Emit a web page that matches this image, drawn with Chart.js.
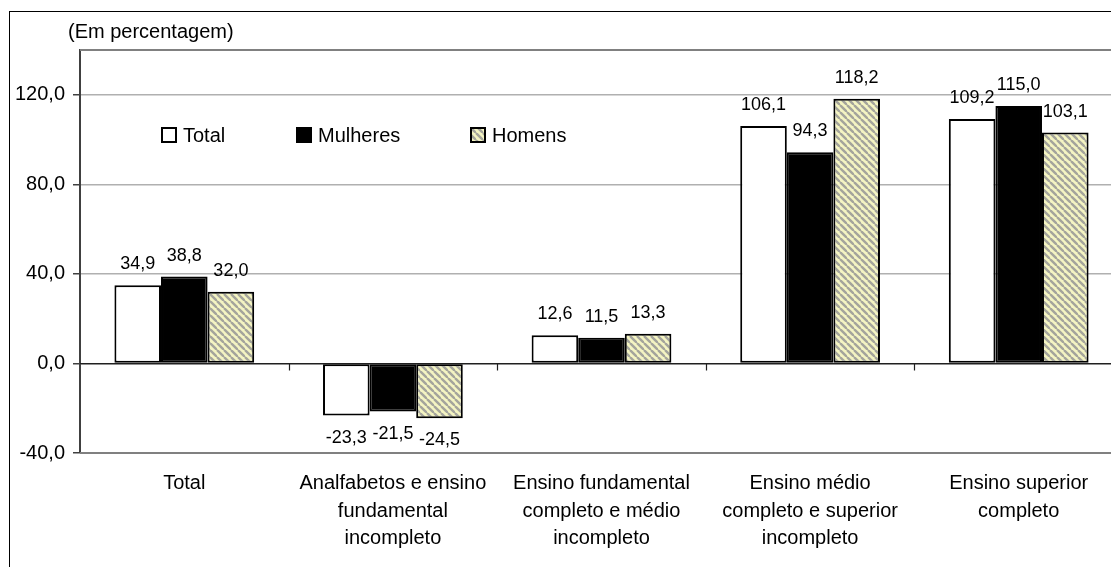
<!DOCTYPE html>
<html>
<head>
<meta charset="utf-8">
<script src="https://cdn.jsdelivr.net/npm/chart.js@4/dist/chart.umd.min.js"></script>
<style>
  html, body { margin: 0; padding: 0; background: #fff; overflow: hidden; }
  #wrap { width: 1111px; height: 567px; overflow: hidden; }
  canvas { display: block; }
</style>
</head>
<body>
<div id="wrap"><canvas id="chart" width="1135" height="567"></canvas></div>
<script>
// Variação percentual da população ocupada por nível de instrução
const categories = [
  'Total',
  ['Analfabetos e ensino', 'fundamental', 'incompleto'],
  ['Ensino fundamental', 'completo e médio', 'incompleto'],
  ['Ensino médio', 'completo e superior', 'incompleto'],
  ['Ensino superior', 'completo']
];
const seriesNames = ['Total', 'Mulheres', 'Homens'];
const totalValues = [34.9, -23.3, 12.6, 106.1, 109.2];
const mulheresValues = [38.8, -21.5, 11.5, 94.3, 115.0];
const homensValues = [32.0, -24.5, 13.3, 118.2, 103.1];
const yTicks = [-40, 0, 40, 80, 120];
const unitNote = '(Em percentagem)';

const FONT = '"Liberation Sans", Arial, sans-serif';
const fmt = v => v.toFixed(1).replace('.', ',');

// diagonal hatch fill for the "Homens" series
function makeHatch() {
  const s = 7;
  const c = document.createElement('canvas');
  c.width = s; c.height = s;
  const g = c.getContext('2d');
  g.fillStyle = '#F4F4C2';
  g.fillRect(0, 0, s, s);
  g.strokeStyle = '#A4A49C';
  g.lineWidth = 2.4;
  for (const x0 of [-s, 0, s]) {
    g.beginPath();
    g.moveTo(x0, 0);
    g.lineTo(x0 + s, s);
    g.stroke();
  }
  return g.createPattern(c, 'repeat');
}
const hatch = makeHatch();

const decorations = {
  id: 'decorations',
  beforeDraw(chart) {
    const ctx = chart.ctx;
    ctx.save();
    ctx.fillStyle = '#fff';
    ctx.fillRect(0, 0, chart.width, chart.height);
    // outer frame
    ctx.strokeStyle = '#000';
    ctx.lineWidth = 1;
    ctx.strokeRect(9.5, 11.5, chart.width + 20, chart.height + 20);
    ctx.restore();
  },
  afterDatasetsDraw(chart) {
    const ctx = chart.ctx;
    const area = chart.chartArea;
    const xs = chart.scales.x, ys = chart.scales.y;
    ctx.save();

    // plot area border (top, right, bottom)
    ctx.strokeStyle = '#808080';
    ctx.lineWidth = 2;
    ctx.beginPath();
    ctx.moveTo(area.left, area.top);
    ctx.lineTo(area.right, area.top);
    ctx.lineTo(area.right, area.bottom);
    ctx.lineTo(area.left, area.bottom);
    ctx.stroke();

    // category axis at zero with tick marks between groups
    const y0 = Math.round(ys.getPixelForValue(0)) + 0.5;
    ctx.strokeStyle = '#202020';
    ctx.lineWidth = 1.2;
    ctx.beginPath();
    ctx.moveTo(area.left, y0);
    ctx.lineTo(area.right, y0);
    for (let i = 1; i < categories.length; i++) {
      const xb = Math.round((xs.getPixelForValue(i - 1) + xs.getPixelForValue(i)) / 2) + 0.5;
      ctx.moveTo(xb, y0);
      ctx.lineTo(xb, y0 + 7);
    }
    ctx.stroke();

    // value labels
    ctx.fillStyle = '#000';
    ctx.font = '18px ' + FONT;
    ctx.textAlign = 'center';
    ctx.textBaseline = 'middle';
    chart.data.datasets.forEach((ds, di) => {
      const meta = chart.getDatasetMeta(di);
      meta.data.forEach((bar, i) => {
        const v = ds.data[i];
        const y = v >= 0 ? bar.y - 21 : bar.y + 22;
        ctx.fillText(fmt(v), bar.x, y);
      });
    });

    // legend inside the plot area
    const legendX = [162, 297, 471];
    const boxY = 128, box = 14;
    ctx.font = '20px ' + FONT;
    ctx.textAlign = 'left';
    chart.data.datasets.forEach((ds, di) => {
      const bx = legendX[di];
      ctx.fillStyle = ds.backgroundColor;
      ctx.fillRect(bx, boxY, box, box);
      ctx.strokeStyle = '#000';
      ctx.lineWidth = 2;
      ctx.strokeRect(bx, boxY, box, box);
      ctx.fillStyle = '#000';
      ctx.fillText(ds.label, bx + 21, boxY + box / 2 + 1);
    });

    // unit note
    ctx.font = '20px ' + FONT;
    ctx.textBaseline = 'middle';
    ctx.fillText(unitNote, 68, 32);
    ctx.restore();
  }
};

new Chart(document.getElementById('chart'), {
  type: 'bar',
  data: {
    labels: categories,
    datasets: [
      { label: seriesNames[0], data: totalValues, backgroundColor: '#FFFFFF' },
      { label: seriesNames[1], data: mulheresValues, backgroundColor: '#000000' },
      { label: seriesNames[2], data: homensValues, backgroundColor: hatch }
    ]
  },
  options: {
    responsive: false,
    devicePixelRatio: 1,
    animation: false,
    layout: { padding: { top: 50, right: 12, bottom: 0, left: 0 } },
    datasets: {
      bar: {
        categoryPercentage: 0.67,
        barPercentage: 1.0,
        borderColor: '#000',
        borderWidth: 2,
        borderSkipped: false
      }
    },
    plugins: {
      legend: { display: false },
      tooltip: { enabled: false },
      title: { display: false }
    },
    scales: {
      x: {
        grid: { display: false, drawTicks: false },
        border: { display: false },
        ticks: {
          autoSkip: false,
          maxRotation: 0,
          padding: 17,
          color: '#000',
          font: { family: FONT, size: 20, lineHeight: 1.37 }
        },
        afterFit(scale) { scale.height = 114; }
      },
      y: {
        min: yTicks[0],
        max: 140,
        afterBuildTicks(scale) {
          scale.ticks = yTicks.map(v => ({ value: v }));
        },
        grid: {
          color: ctx => (ctx.tick && ctx.tick.value === 0) ? '#202020' : '#B0B0B0',
          lineWidth: 1.5,
          tickLength: 7,
          tickColor: '#404040'
        },
        border: { display: true, color: '#404040', width: 2 },
        ticks: {
          padding: 8,
          color: '#000',
          font: { family: FONT, size: 20 },
          callback: v => fmt(v)
        },
        afterFit(scale) { scale.width = 80; }
      }
    }
  },
  plugins: [decorations]
});
</script>
</body>
</html>
